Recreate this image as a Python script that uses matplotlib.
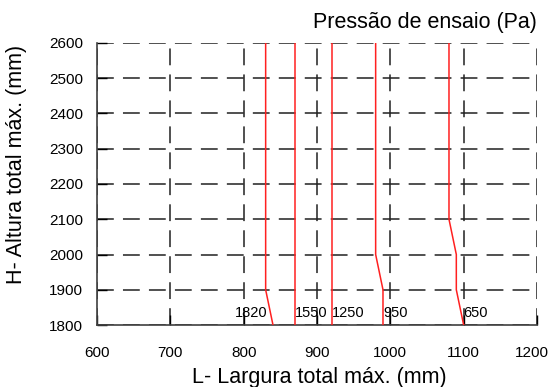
import matplotlib.pyplot as plt
from matplotlib.transforms import ScaledTranslation

plt.rcParams["font.family"] = ["Liberation Sans", "DejaVu Sans"]

# curve per test pressure (Pa): width L (mm) vs height H (mm)
pressures = ["1820", "1550", "1250", "950", "650"]
heights_1820 = [2600, 1900, 1800]
widths_1820 = [830, 830, 840]
heights_1550 = [2600, 1800]
widths_1550 = [870, 870]
heights_1250 = [2600, 1800]
widths_1250 = [920, 920]
heights_950 = [2600, 2000, 1900, 1800]
widths_950 = [980, 980, 990, 990]
heights_650 = [2600, 2100, 2000, 1900, 1800]
widths_650 = [1080, 1080, 1090, 1090, 1100]

label_x = [788, 870, 920, 990, 1100]
label_y = 1834

x_ticks = [600, 700, 800, 900, 1000, 1100, 1200]
y_ticks = [1800, 1900, 2000, 2100, 2200, 2300, 2400, 2500, 2600]

curves = [
    (widths_1820, heights_1820),
    (widths_1550, heights_1550),
    (widths_1250, heights_1250),
    (widths_950, heights_950),
    (widths_650, heights_650),
]

fig = plt.figure(figsize=(5.52, 3.87), dpi=100)
ax = fig.add_axes([0.1757, 0.1602, 0.7971, 0.7287])

for xs, ys in curves:
    ax.plot(xs, ys, color="#ff2020", lw=1.1, zorder=3)

for name, lx in zip(pressures, label_x):
    ax.text(lx, label_y, name, fontsize=10.5, ha="left", va="center", zorder=4)

ax.set_xlim(600, 1200)
ax.set_ylim(1800, 2600)
ax.set_xticks(x_ticks)
ax.set_yticks(y_ticks)
ax.tick_params(direction="in", length=7, width=1, labelsize=11, colors="black")
ax.tick_params(axis="x", pad=15)
ax.tick_params(axis="y", pad=10)
ax.grid(True, color="#202020", lw=1.1, linestyle=(0, (11, 6)))
for side in ["top", "right"]:
    ax.spines[side].set_visible(False)
for side in ["left", "bottom"]:
    ax.spines[side].set_color("#404040")
    ax.spines[side].set_linewidth(1.2)

# last x label sits at the figure edge, nudge it left a little
last = ax.get_xticklabels()[-1]
last.set_transform(last.get_transform() + ScaledTranslation(-0.05, 0, fig.dpi_scale_trans))

ax.set_xlabel("L- Largura total máx. (mm)", fontsize=15.5)
ax.xaxis.set_label_coords(0.505, -0.15)
ax.set_ylabel("H- Altura total máx. (mm)", fontsize=15.5)
ax.yaxis.set_label_coords(-0.16, 0.571)
ax.text(1.0, 1.074, "Pressão de ensaio (Pa)", transform=ax.transAxes,
        fontsize=15.5, ha="right", va="center")

fig.savefig("out.png", dpi=100)
